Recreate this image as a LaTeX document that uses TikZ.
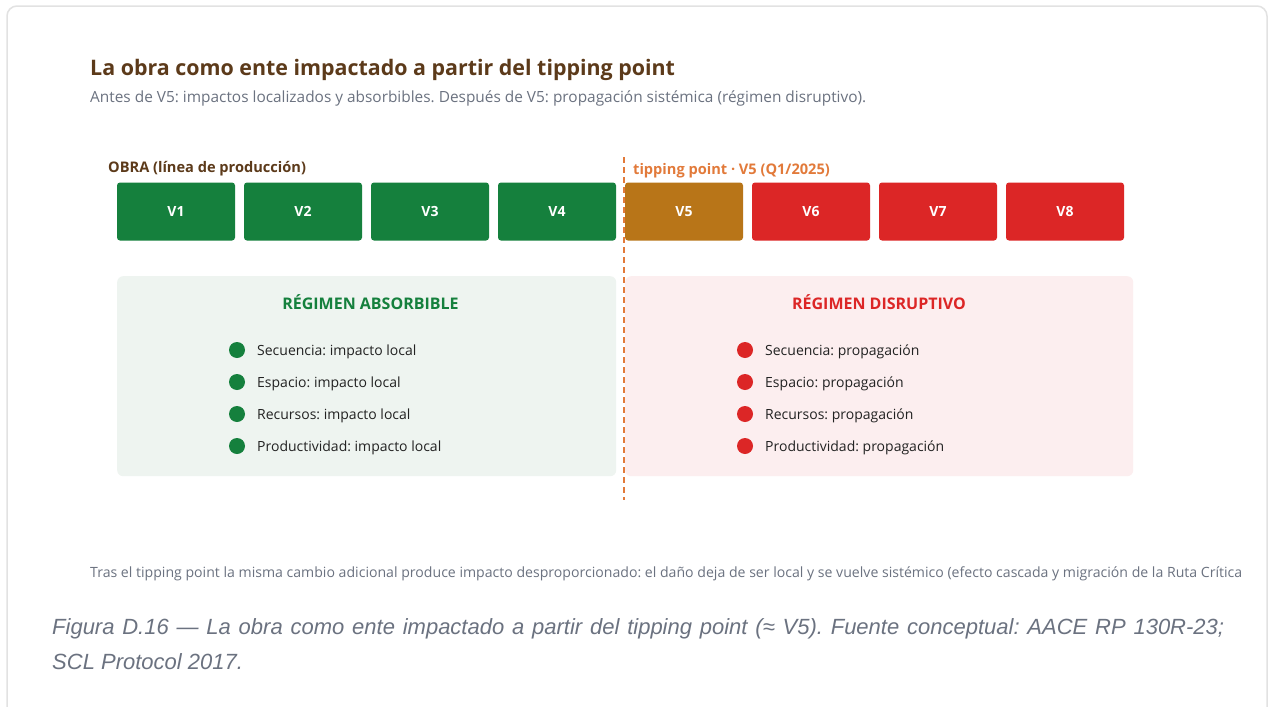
\documentclass[tikz,border=0pt]{standalone}
\usepackage{fontspec}
\setmainfont{Open Sans}
\newfontfamily\capfont{Liberation Sans}
\frenchspacing
\definecolor{cardline}{RGB}{226,226,226}
\definecolor{titlebrown}{RGB}{92,58,26}
\definecolor{subgray}{RGB}{107,114,128}
\definecolor{okgreen}{RGB}{21,128,61}
\definecolor{warnorange}{RGB}{184,117,24}
\definecolor{badred}{RGB}{220,38,38}
\definecolor{tipline}{RGB}{226,122,58}
\definecolor{greenpanel}{RGB}{238,244,240}
\definecolor{redpanel}{RGB}{252,238,239}
\definecolor{bodytext}{RGB}{34,34,34}
\tikzset{
  vbox/.style={rectangle, rounded corners=3pt, minimum width=118pt, minimum height=58pt, inner sep=0pt, text=white, font=\bfseries\fontsize{14}{16}\selectfont},
  lefttext/.style={anchor=base west, inner sep=0pt},
  dot/.style={circle, minimum size=16pt, inner sep=0pt},
  panel/.style={rectangle, rounded corners=6pt, inner sep=0pt, anchor=north west},
  itemtext/.style={lefttext, text=bodytext, font=\fontsize{14}{16}\selectfont},
  headtext/.style={anchor=base, inner sep=0pt, font=\bfseries\fontsize{16}{19}\selectfont},
}
\begin{document}
\frenchspacing
\begin{tikzpicture}[x=1pt,y=-1pt]
\useasboundingbox (0,0) rectangle (1270,707);
\clip (0,0) rectangle (1270,707);
\fill[white] (0,0) rectangle (1270,707);
% card
\draw[cardline, line width=1.5pt, rounded corners=10pt] (7,6) rectangle (1267,730);
% title
\node[lefttext, text=titlebrown, font=\bfseries\fontsize{21.4}{25}\selectfont] (title) at (90,75.5) {La obra como ente impactado a partir del tipping point};
\node[lefttext, text=subgray, font=\fontsize{15.4}{18}\selectfont] (subtitle) at (90,102) {Antes de V5: impactos localizados y absorbibles. Después de V5: propagación sistémica (régimen disruptivo).};
% labels
\node[lefttext, text=titlebrown, font=\bfseries\fontsize{14.6}{17}\selectfont] (obra) at (108,172) {OBRA (línea de producción)};
\node[lefttext, text=tipline, font=\bfseries\fontsize{14.6}{17}\selectfont] (tiplabel) at (633,174) {tipping point · V5 (Q1/2025)};
% boxes
\node[vbox, fill=okgreen] (v1) at (176,211.5) {V1};
\node[vbox, fill=okgreen] (v2) at (303,211.5) {V2};
\node[vbox, fill=okgreen] (v3) at (430,211.5) {V3};
\node[vbox, fill=okgreen] (v4) at (557,211.5) {V4};
\node[vbox, fill=warnorange] (v5) at (684,211.5) {V5};
\node[vbox, fill=badred] (v6) at (811,211.5) {V6};
\node[vbox, fill=badred] (v7) at (938,211.5) {V7};
\node[vbox, fill=badred] (v8) at (1065,211.5) {V8};
% panels
\node[panel, fill=greenpanel, minimum width=499pt, minimum height=200pt] (lpanel) at (117,276) {};
\node[panel, fill=redpanel, minimum width=508pt, minimum height=200pt] (rpanel) at (625,276) {};
\node[headtext, text=okgreen] (lhead) at (370.5,309) {RÉGIMEN ABSORBIBLE};
\node[headtext, text=badred] (rhead) at (879,309) {RÉGIMEN DISRUPTIVO};
% left bullets
\node[dot, fill=okgreen] (ld1) at (237,350) {};
\node[dot, fill=okgreen] (ld2) at (237,382) {};
\node[dot, fill=okgreen] (ld3) at (237,414) {};
\node[dot, fill=okgreen] (ld4) at (237,446) {};
\node[itemtext] (lt1) at (257,355) {Secuencia: impacto local};
\node[itemtext] (lt2) at (257,387) {Espacio: impacto local};
\node[itemtext] (lt3) at (257,419) {Recursos: impacto local};
\node[itemtext] (lt4) at (257,451) {Productividad: impacto local};
% right bullets
\node[dot, fill=badred] (rd1) at (745,350) {};
\node[dot, fill=badred] (rd2) at (745,382) {};
\node[dot, fill=badred] (rd3) at (745,414) {};
\node[dot, fill=badred] (rd4) at (745,446) {};
\node[itemtext] (rt1) at (765,355) {Secuencia: propagación};
\node[itemtext] (rt2) at (765,387) {Espacio: propagación};
\node[itemtext] (rt3) at (765,419) {Recursos: propagación};
\node[itemtext] (rt4) at (765,451) {Productividad: propagación};
% tipping line
\coordinate (tiptop) at (624,157);
\coordinate (tipbot) at (624,500);
\draw[tipline, line width=2.5pt, dash pattern=on 6pt off 4pt] (tiptop) -- (tipbot);
% footnote
\begin{scope}
\clip (0,540) rectangle (1241,600);
\node[lefttext, text=subgray, font=\fontsize{14.1}{16}\selectfont] (foot) at (90,577) {Tras el tipping point la misma cambio adicional produce impacto desproporcionado: el daño deja de ser local y se vuelve sistémico (efecto cascada y migración de la Ruta Crítica).};
\end{scope}
% caption
\node[anchor=north west, inner sep=0pt, text=subgray, text width=1172pt, align=justify, font=\capfont\itshape\fontsize{22}{35}\selectfont] (caption) at (52,618) {Figura D.16 — La obra como ente impactado a partir del tipping point (≈ V5). Fuente conceptual: AACE RP 130R-23;\linebreak SCL Protocol 2017.};
\end{tikzpicture}
\end{document}
